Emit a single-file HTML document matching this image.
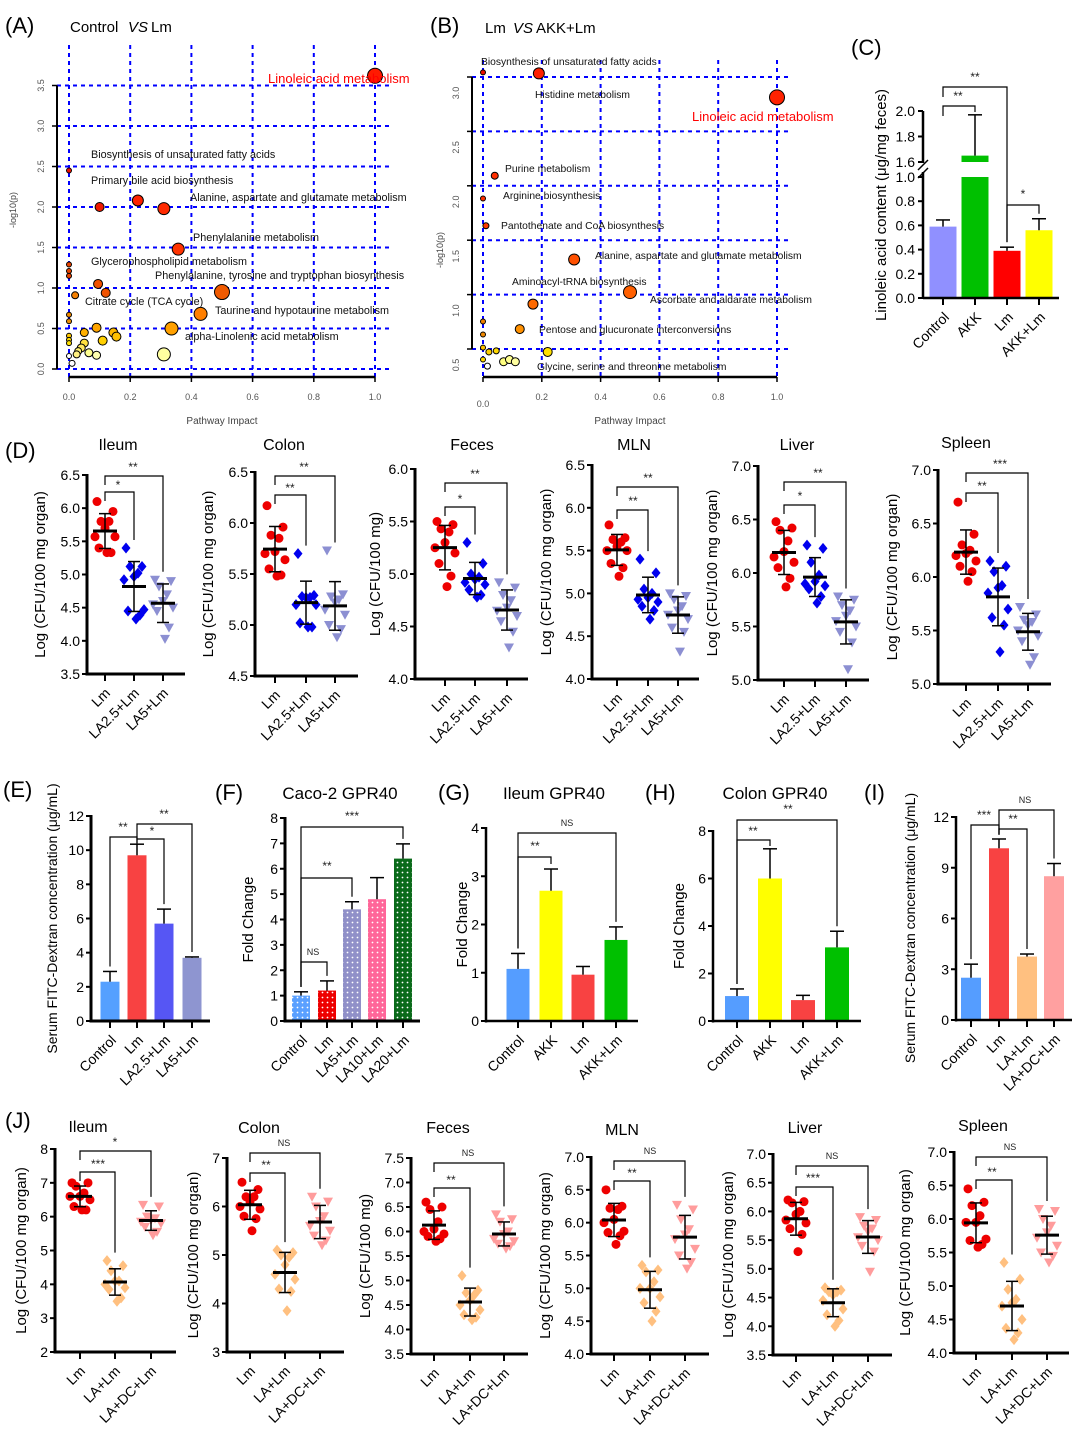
<!DOCTYPE html>
<html><head><meta charset="utf-8"><title>Figure</title>
<style>
html,body{margin:0;padding:0;background:#fff;}
svg{display:block;font-family:"Liberation Sans",Arial,sans-serif;}
</style></head>
<body>
<svg id="fig" width="1079" height="1445" viewBox="0 0 1079 1445" xmlns="http://www.w3.org/2000/svg">
<defs>
<pattern id="dotsW" width="5" height="5" patternUnits="userSpaceOnUse"><circle cx="2.5" cy="2.5" r="0.9" fill="#fff"/></pattern>
</defs>
</svg>
<script>
// ---------- DATA ----------
const A_IMPACT = [1.0,0.0,0.1,0.225,0.31,0.357,0.0,0.0,0.0,0.095,0.12,0.02,0.5,0.0,0.0,0.43,0.335,0.09,0.05,0.145,0.155,0.11,0.0,0.0,0.0,0.05,0.04,0.03,0.025,0.065,0.09,0.31,0.0,0.01];
const A_LOGP   = [3.62,2.45,2.0,2.08,1.98,1.48,1.29,1.21,1.15,1.05,0.94,0.91,0.95,0.67,0.59,0.68,0.5,0.51,0.45,0.45,0.4,0.35,0.41,0.36,0.32,0.32,0.26,0.22,0.18,0.2,0.17,0.18,0.16,0.07];
const A_RADIUS = [7.5,2.5,4.5,5.5,6,6,2.5,2.5,2.5,4.5,4.5,3.5,7.5,2.5,2.5,6.5,6.5,4.5,4,4.5,4.5,4.5,2.5,2.5,2.5,4,4,3.5,3.5,4,4,6.5,2.5,3];
const A_COLOR  = ['#ff1a00','#ee1100','#ee1a00','#ff2200','#ff2a00','#ff3300','#e84400','#e84400','#e84400','#ef5000','#f05200','#f58000','#f05a00','#f08a00','#f09000','#ff7f00','#ffa000','#ffa500','#ffb000','#ffb800','#ffc000','#ffd000','#ffc800','#ffd800','#ffe000','#ffe040','#ffe860','#fff070','#fff080','#ffff90','#ffffb0','#ffffa0','#ffffff','#ffffff'];
const A_LABELS = ['Biosynthesis of unsaturated fatty acids','Primary bile acid biosynthesis','Alanine, aspartate and glutamate metabolism','Phenylalanine metabolism','Glycerophospholipid metabolism','Phenylalanine, tyrosine and tryptophan biosynthesis','Citrate cycle (TCA cycle)','Taurine and hypotaurine metabolism','alpha-Linolenic acid metabolism'];
const A_XTICKS = ['0.0','0.2','0.4','0.6','0.8','1.0'];
const A_YTICKS = ['0.0','0.5','1.0','1.5','2.0','2.5','3.0','3.5'];
const B_IMPACT = [0.0,0.19,1.0,0.04,0.0,0.01,0.31,0.5,0.17,0.0,0.0,0.125,0.0,0.02,0.045,0.22,0.0,0.07,0.09,0.11,0.015];
const B_LOGP   = [3.19,3.18,2.96,2.24,2.03,1.78,1.47,1.17,1.06,0.9,0.78,0.83,0.66,0.62,0.63,0.62,0.55,0.53,0.55,0.53,0.49];
const B_RADIUS = [2.5,5.5,7.5,3.5,2.5,3,5.5,6.5,5,2.5,2.5,4.5,2.5,3,3,4.5,2.5,4,4,4,3];
const B_COLOR  = ['#ee1100','#ff2000','#ff2200','#ff3000','#ff3000','#ff3a00','#ff5000','#ff6000','#ff6a00','#f08000','#f08800','#ff9000','#ffc000','#ffd000','#ffd800','#ffe000','#ffd800','#ffff80','#ffff90','#ffffa0','#ffffff'];
const B_LABELS = ['Biosynthesis of unsaturated fatty acids','Histidine metabolism','Purine metabolism','Arginine biosynthesis','Pantothenate and CoA biosynthesis','Alanine, aspartate and glutamate metabolism','Aminoacyl-tRNA biosynthesis','Ascorbate and aldarate metabolism','Pentose and glucuronate interconversions','Glycine, serine and threonine metabolism'];
const B_XTICKS = ['0.0','0.2','0.4','0.6','0.8','1.0'];
const B_YTICKS = ['0.5','1.0','1.5','2.0','2.5','3.0'];
const C_GROUPS = ['Control','AKK','Lm','AKK+Lm'];
const C_MEAN = [0.59,1.65,0.39,0.56];
const C_ERR  = [0.055,0.32,0.03,0.095];
const C_LOW_TICKS = ['0.0','0.2','0.4','0.6','0.8','1.0'];
const C_HIGH_TICKS = ['1.6','1.8','2.0'];
const D_GROUPS = ['Lm','LA2.5+Lm','LA5+Lm'];
const D_ILEUM  = [[6.1,5.95,5.8,5.8,5.7,5.57,5.57,5.4,5.33,5.33],[5.4,5.12,5.12,5.02,4.97,4.92,4.47,4.45,4.39,4.33],[4.92,4.9,4.82,4.7,4.6,4.55,4.5,4.45,4.2,4.03]];
const D_COLON  = [[6.17,5.96,5.88,5.85,5.72,5.7,5.64,5.55,5.49,5.48],[5.7,5.29,5.28,5.27,5.27,5.2,5.2,5.02,4.98,4.98],[5.73,5.3,5.28,5.25,5.22,5.15,5.1,5.0,4.96,4.88]];
const D_FECES  = [[5.5,5.47,5.43,5.4,5.3,5.25,5.2,5.1,4.98,4.88],[5.3,5.1,5.0,4.97,4.95,4.92,4.9,4.85,4.8,4.78],[4.92,4.87,4.8,4.75,4.68,4.65,4.6,4.55,4.45,4.3]];
const D_MLN    = [[5.8,5.65,5.63,5.6,5.55,5.5,5.5,5.35,5.3,5.2],[5.4,5.24,5.05,5.0,4.95,4.93,4.9,4.85,4.8,4.7],[5.0,4.97,4.93,4.85,4.8,4.75,4.7,4.6,4.55,4.32]];
const D_LIVER  = [[6.48,6.42,6.4,6.3,6.2,6.15,6.1,6.05,5.95,5.87],[6.26,6.23,6.1,5.98,5.92,5.9,5.88,5.85,5.78,5.72],[5.78,5.75,5.7,5.65,5.6,5.55,5.5,5.45,5.35,5.1]];
const D_SPLEEN = [[6.7,6.4,6.3,6.25,6.22,6.2,6.15,6.1,6.05,5.96],[6.15,6.1,6.05,5.92,5.9,5.85,5.7,5.62,5.55,5.3],[5.72,5.65,5.6,5.58,5.55,5.5,5.45,5.4,5.25,5.18]];
const D_TICKS_ILEUM = ['3.5','4.0','4.5','5.0','5.5','6.0','6.5'];
const D_TICKS_COLON = ['4.5','5.0','5.5','6.0','6.5'];
const D_TICKS_FECES = ['4.0','4.5','5.0','5.5','6.0'];
const D_TICKS_MLN   = ['4.0','4.5','5.0','5.5','6.0','6.5'];
const D_TICKS_LIVER = ['5.0','5.5','6.0','6.5','7.0'];
const D_TICKS_SPLEEN= ['5.0','5.5','6.0','6.5','7.0'];
const E_GROUPS = ['Control','Lm','LA2.5+Lm','LA5+Lm'];
const E_MEAN = [2.3,9.7,5.7,3.7];
const E_ERR  = [0.6,0.65,0.85,0.05];
const E_TICKS = ['0','2','4','6','8','10','12'];
const F_GROUPS = ['Control','Lm','LA5+Lm','LA10+Lm','LA20+Lm'];
const F_MEAN = [1.0,1.2,4.4,4.8,6.4];
const F_ERR  = [0.15,0.38,0.3,0.85,0.58];
const F_TICKS = ['0','1','2','3','4','5','6','7','8'];
const G_GROUPS = ['Control','AKK','Lm','AKK+Lm'];
const G_MEAN = [1.08,2.7,0.96,1.68];
const G_ERR  = [0.32,0.45,0.17,0.27];
const G_TICKS = ['0','1','2','3','4'];
const H_GROUPS = ['Control','AKK','Lm','AKK+Lm'];
const H_MEAN = [1.05,6.0,0.88,3.1];
const H_ERR  = [0.3,1.25,0.2,0.68];
const H_TICKS = ['0','2','4','6','8'];
const I_GROUPS = ['Control','Lm','LA+Lm','LA+DC+Lm'];
const I_MEAN = [2.5,10.15,3.75,8.5];
const I_ERR  = [0.8,0.55,0.15,0.75];
const I_TICKS = ['0','3','6','9','12'];
const J_GROUPS = ['Lm','LA+Lm','LA+DC+Lm'];
const J_ILEUM  = [[7.0,7.0,6.9,6.7,6.6,6.6,6.5,6.3,6.2,6.2],[4.7,4.55,4.4,4.1,4.1,4.0,3.9,3.85,3.6,3.5],[6.35,6.3,6.0,5.95,5.9,5.85,5.8,5.7,5.55,5.45]];
const J_COLON  = [[6.5,6.35,6.2,6.2,6.1,6.0,5.95,5.8,5.75,5.5],[5.1,5.05,5.0,4.95,4.8,4.6,4.5,4.3,4.25,3.85],[6.2,6.1,6.0,5.8,5.7,5.6,5.5,5.4,5.3,5.2]];
const J_FECES  = [[6.6,6.5,6.45,6.2,6.05,6.0,5.95,5.9,5.85,5.8],[5.1,4.8,4.75,4.7,4.6,4.5,4.4,4.3,4.25,4.2],[6.35,6.25,6.2,6.0,5.95,5.85,5.8,5.75,5.7,5.65]];
const J_MLN    = [[6.5,6.25,6.22,6.2,6.05,6.0,5.87,5.85,5.8,5.67],[5.35,5.28,5.25,5.1,5.0,5.0,4.87,4.78,4.65,4.5],[6.27,6.2,6.05,5.9,5.82,5.75,5.6,5.5,5.4,5.3]];
const J_LIVER  = [[6.2,6.17,6.15,6.0,5.95,5.85,5.8,5.7,5.6,5.3],[4.67,4.63,4.6,4.6,4.55,4.45,4.3,4.2,4.1,4.0],[5.9,5.85,5.75,5.7,5.65,5.55,5.5,5.4,5.3,4.95]];
const J_SPLEEN = [[6.45,6.25,6.2,6.05,5.95,5.95,5.7,5.68,5.62,5.58],[5.35,5.1,4.95,4.8,4.75,4.7,4.5,4.37,4.3,4.2],[6.15,6.12,6.0,5.9,5.8,5.72,5.6,5.5,5.45,5.35]];
const J_TICKS_ILEUM = ['2','3','4','5','6','7','8'];
const J_TICKS_COLON = ['3','4','5','6','7'];
const J_TICKS_FECES = ['3.5','4.0','4.5','5.0','5.5','6.0','6.5','7.0','7.5'];
const J_TICKS_MLN   = ['4.0','4.5','5.0','5.5','6.0','6.5','7.0'];
const J_TICKS_LIVER = ['3.5','4.0','4.5','5.0','5.5','6.0','6.5','7.0'];
const J_TICKS_SPLEEN= ['4.0','4.5','5.0','5.5','6.0','6.5','7.0'];

// ---------- HELPERS ----------
const svg = document.getElementById('fig');
const NS = 'http://www.w3.org/2000/svg';
function mk(tag, attrs, name, parent){
  const el = document.createElementNS(NS, tag);
  for (const k in attrs) el.setAttribute(k, attrs[k]);
  
  
  (parent||svg).appendChild(el);
  return el;
}
function grp(name){ return mk('g', {}, name); }
function line(x1,y1,x2,y2,w,col,name,p,dash){
  const a = {x1:x1,y1:y1,x2:x2,y2:y2,stroke:col||'#000','stroke-width':w||1};
  if (dash) a['stroke-dasharray']=dash;
  return mk('line', a, name, p);
}
function txt(x,y,s,size,name,p,opt){
  opt = opt||{};
  const a = {x:x,y:y,'font-size':size,fill:opt.fill||'#000'};
  if (opt.anchor) a['text-anchor']=opt.anchor;
  if (opt.rot!==undefined) a.transform='rotate('+opt.rot+' '+x+' '+y+')';
  if (opt.style) a['font-style']=opt.style;
  const t = mk('text', a, name, p);
  t.textContent = s;
  return t;
}
function mean(a){ return a.reduce((s,v)=>s+v,0)/a.length; }
function sd(a){ const m=mean(a); return Math.sqrt(a.reduce((s,v)=>s+(v-m)*(v-m),0)/(a.length-1)); }
function scaleY(v0,v1,p0,p1){ return v => p0 + (v-v0)*(p1-p0)/(v1-v0); }

[['(A)',5,33],['(B)',430,33],['(C)',851,55],['(D)',5,458],['(E)',3,797],['(F)',215,800],['(G)',438,800],['(H)',645,800],['(I)',864,800],['(J)',5,1128]].forEach(l=>{
  txt(l[1],l[2],l[0],22,'panel-label-'+l[0].replace(/[()]/g,'').toLowerCase());
});

// ---------- BUBBLE PANELS ----------
function bubblePanel(cfg){
  const g = grp(cfg.name);
  const X = v => cfg.x0 + v*(cfg.x1-cfg.x0);
  const Y = cfg.Y;
  cfg.xticks.forEach((t,i)=>{ const v=parseFloat(t);
    line(X(v),cfg.gridTop,X(v),cfg.axisY,2,'#0000ff','grid-vertical',g,'4 4'); });
  cfg.yticks.forEach(t=>{ const v=parseFloat(t);
    line(cfg.axisX,cfg.gridY(v),cfg.gridRight,cfg.gridY(v),2,'#0000ff','grid-horizontal',g,'4 4'); });
  line(cfg.axisX,cfg.gridY(parseFloat(cfg.yticks[cfg.yticks.length-1])),cfg.axisX,cfg.gridY(parseFloat(cfg.yticks[0])),2,'#000','y-axis',g);
  line(X(0),cfg.axisY,X(1),cfg.axisY,2.5,'#000','x-axis',g);
  cfg.yticks.forEach(t=>{ const v=parseFloat(t);
    line(cfg.axisX-5,cfg.gridY(v),cfg.axisX,cfg.gridY(v),1.5,'#000','y-tick',g);
    txt(cfg.axisX-13,cfg.labelY(v),t,9,'y-tick-label',g,{anchor:'middle',rot:-90,fill:'#555'}); });
  cfg.xticks.forEach(t=>{ const v=parseFloat(t);
    line(X(v),cfg.axisY,X(v),cfg.axisY+5,1.5,'#000','x-tick',g);
    txt(X(v),(v===0&&cfg.zeroLow)?407:400,t,9,'x-tick-label',g,{anchor:'middle',fill:'#555'}); });
  txt((X(0)+X(1))/2,424,'Pathway Impact',10,'x-axis-title',g,{anchor:'middle',fill:'#444'});
  txt(cfg.ytX,cfg.ytY,'-log10(p)',9,'y-axis-title',g,{anchor:'middle',rot:-90,fill:'#444'});
  cfg.ix.forEach((v,i)=>{
    mk('circle',{cx:X(v),cy:Y(cfg.lp[i]),r:cfg.rad[i],fill:cfg.col[i],stroke:'#000','stroke-width':1},'pathway-bubble',g);
  });
  cfg.labels.forEach((s,i)=>{ txt(cfg.lpos[i][0],cfg.lpos[i][1],s,cfg.lfs,'pathway-label',g,{fill:'#111'}); });
  txt(cfg.hl[0],cfg.hl[1],'Linoleic acid metabolism',13,'highlight-label',g,{fill:'#ff0000'});
}
const AY = scaleY(0,3.5,369,85.5);
bubblePanel({name:'panel-a-pathway-bubble',x0:69,x1:375,axisX:57,axisY:377,gridTop:45,gridRight:390,
  Y:AY,gridY:AY,labelY:AY,yticks:A_YTICKS,xticks:A_XTICKS,ix:A_IMPACT,lp:A_LOGP,rad:A_RADIUS,col:A_COLOR,lfs:10.8,
  labels:A_LABELS,lpos:[[91,158],[91,184],[190,201],[193,241],[91,265],[155,279],[85,305],[215,314],[185,340]],
  hl:[268,83],ytX:16,ytY:210});
const BY = scaleY(0.5,3.0,365,93);
const BG = v => BY(v)-16;
bubblePanel({name:'panel-b-pathway-bubble',x0:483,x1:777,axisX:472,axisY:377,gridTop:60,gridRight:790,
  Y:BY,gridY:BG,labelY:BY,yticks:B_YTICKS,xticks:B_XTICKS,zeroLow:true,ix:B_IMPACT,lp:B_LOGP,rad:B_RADIUS,col:B_COLOR,lfs:10.3,
  labels:B_LABELS,lpos:[[481,65],[535,98],[505,172],[503,199],[501,229],[595,259],[512,285],[650,303],[539,333],[537,370]],
  hl:[692,121],ytX:443,ytY:250});
txt(70,32,'Control ',15,'panel-a-title');
txt(128,32,'VS',15,'panel-a-title-vs',null,{style:'italic'});
txt(151,32,' Lm',15,'panel-a-title-end');
txt(485,33,'Lm ',15,'panel-b-title');
txt(513,33,'VS',15,'panel-b-title-vs',null,{style:'italic'});
txt(536,33,' AKK+Lm',15,'panel-b-title-end');

function bracket(g,xa,xb,y,ya,yb,lab,lx,ly,size){
  mk('polyline',{points:xa+','+ya+' '+xa+','+y+' '+xb+','+y+' '+xb+','+yb,fill:'none',stroke:'#000','stroke-width':1.2},'significance-bracket',g);
  txt(lx,ly,lab,size||11,'significance-label',g,{anchor:'middle',fill:'#222'});
}

// ---------- SCATTER PANELS ----------
const JIT = [-8,8,-4,4,0,-10,10,-6,6,2];
function marker(g,shape,x,y,col){
  if (shape==='c') mk('circle',{cx:x,cy:y,r:4.5,fill:col},'data-point',g);
  else if (shape==='d') mk('polygon',{points:(x)+','+(y-5.5)+' '+(x+4.5)+','+y+' '+x+','+(y+5.5)+' '+(x-4.5)+','+y,fill:col},'data-point',g);
  else mk('polygon',{points:(x-5)+','+(y-4)+' '+(x+5)+','+(y-4)+' '+x+','+(y+5),fill:col},'data-point',g);
}
function scatterPanel(c){
  const g = grp(c.name);
  const t0 = parseFloat(c.ticks[0]), t1 = parseFloat(c.ticks[c.ticks.length-1]);
  const Y = scaleY(t0,t1,c.p0,c.p1);
  line(c.ax,c.p1-1,c.ax,c.p0+1.5,3,'#000','y-axis',g);
  line(c.ax,c.p0,c.xend,c.p0,3,'#000','x-axis',g);
  c.ticks.forEach(t=>{ const v=parseFloat(t);
    line(c.ax-5,Y(v),c.ax,Y(v),2,'#000','y-tick',g);
    txt(c.ax-7,Y(v)+5,t,14,'y-tick-label',g,{anchor:'end'}); });
  txt(c.tx,c.ty,c.title,16,'panel-title',g,{anchor:'middle'});
  txt(c.ytx,(c.p0+c.p1)/2,c.ytitle,15,'y-axis-title',g,{anchor:'middle',rot:-90});
  const tops = [];
  c.data.forEach((arr,gi)=>{
    const gx = c.gx[gi];
    line(gx,c.p0,gx,c.p0+7,2,'#000','x-tick',g);
    txt(gx+6,c.p0+20,c.groups[gi],14,'x-tick-label',g,{anchor:'end',rot:-45});
    arr.forEach((v,i)=>marker(g,c.shapes[gi],gx+JIT[i],Y(v),c.colors[gi]));
    const m = mean(arr), s = sd(arr);
    line(gx,Y(m-s),gx,Y(m+s),1.5,'#000','error-bar',g);
    line(gx-6,Y(m+s),gx+6,Y(m+s),1.5,'#000','error-cap',g);
    line(gx-6,Y(m-s),gx+6,Y(m-s),1.5,'#000','error-cap',g);
    line(gx-12,Y(m),gx+12,Y(m),3,'#000','mean-line',g);
    tops.push(Math.min(Y(Math.max(...arr)),Y(m+s)));
  });
  c.br.forEach(b=>{
    const yb = Math.max(b[1]+8, tops[b[0]]-8);
    bracket(g,c.gx[0],c.gx[b[0]],b[1],b[1]+9,yb,b[2],b[3],b[4],b[2]==='NS'?9:12);
  });
}
const DC = ['#ee0000','#0000ee','#8c8fd2'], DS = ['c','d','t'];
const JC = ['#ee0000','#ffc080','#ff9c9c'];
const DYT = 'Log (CFU/100 mg organ)';
scatterPanel({name:'panel-d-ileum',data:D_ILEUM,ticks:D_TICKS_ILEUM,ax:87,xend:185,p0:674,p1:475,gx:[105,134,163],groups:D_GROUPS,colors:DC,shapes:DS,title:'Ileum',tx:118,ty:450,ytitle:DYT,ytx:45,br:[[1,492,'*',118,489],[2,476,'**',133,471]]});
scatterPanel({name:'panel-d-colon',data:D_COLON,ticks:D_TICKS_COLON,ax:255,xend:358,p0:676,p1:472,gx:[275,306,335],groups:D_GROUPS,colors:DC,shapes:DS,title:'Colon',tx:284,ty:450,ytitle:DYT,ytx:213,br:[[1,495,'**',290,492],[2,476,'**',304,471]]});
scatterPanel({name:'panel-d-feces',data:D_FECES,ticks:D_TICKS_FECES,ax:415,xend:528,p0:679,p1:469,gx:[445,475,507],groups:D_GROUPS,colors:DC,shapes:DS,title:'Feces',tx:472,ty:450,ytitle:'Log (CFU/100 mg)',ytx:380,br:[[1,507,'*',460,503],[2,483,'**',475,478]]});
scatterPanel({name:'panel-d-mln',data:D_MLN,ticks:D_TICKS_MLN,ax:592,xend:699,p0:679,p1:465,gx:[617,648,678],groups:D_GROUPS,colors:DC,shapes:DS,title:'MLN',tx:634,ty:450,ytitle:DYT,ytx:551,br:[[1,510,'**',633,505],[2,487,'**',648,482]]});
scatterPanel({name:'panel-d-liver',data:D_LIVER,ticks:D_TICKS_LIVER,ax:758,xend:869,p0:680,p1:466,gx:[784,815,846],groups:D_GROUPS,colors:DC,shapes:DS,title:'Liver',tx:797,ty:450,ytitle:DYT,ytx:717,br:[[1,505,'*',800,500],[2,482,'**',818,477]]});
scatterPanel({name:'panel-d-spleen',data:D_SPLEEN,ticks:D_TICKS_SPLEEN,ax:938,xend:1051,p0:684,p1:470,gx:[966,998,1028],groups:D_GROUPS,colors:DC,shapes:DS,title:'Spleen',tx:966,ty:448,ytitle:DYT,ytx:897,br:[[1,493,'**',982,490],[2,473,'***',1000,468]]});

scatterPanel({name:'panel-j-ileum',data:J_ILEUM,ticks:J_TICKS_ILEUM,ax:55,xend:176,p0:1352,p1:1149,gx:[80,115,151],groups:J_GROUPS,colors:JC,shapes:DS,title:'Ileum',tx:88,ty:1132,ytitle:DYT,ytx:26,br:[[1,1172,'***',98,1168],[2,1151,'*',115,1146]]});
scatterPanel({name:'panel-j-colon',data:J_COLON,ticks:J_TICKS_COLON,ax:227,xend:344,p0:1352,p1:1158,gx:[250,285,320],groups:J_GROUPS,colors:JC,shapes:DS,title:'Colon',tx:259,ty:1133,ytitle:DYT,ytx:198,br:[[1,1173,'**',266,1169],[2,1153,'NS',284,1146]]});
scatterPanel({name:'panel-j-feces',data:J_FECES,ticks:J_TICKS_FECES,ax:411,xend:528,p0:1354,p1:1158,gx:[434,470,504],groups:J_GROUPS,colors:JC,shapes:DS,title:'Feces',tx:448,ty:1133,ytitle:'Log (CFU/100 mg)',ytx:370,br:[[1,1188,'**',451,1184],[2,1163,'NS',468,1156]]});
scatterPanel({name:'panel-j-mln',data:J_MLN,ticks:J_TICKS_MLN,ax:591,xend:709,p0:1354,p1:1157,gx:[614,650,685],groups:J_GROUPS,colors:JC,shapes:DS,title:'MLN',tx:622,ty:1135,ytitle:DYT,ytx:550,br:[[1,1181,'**',632,1177],[2,1161,'NS',650,1154]]});
scatterPanel({name:'panel-j-liver',data:J_LIVER,ticks:J_TICKS_LIVER,ax:773,xend:892,p0:1355,p1:1154,gx:[796,833,868],groups:J_GROUPS,colors:JC,shapes:DS,title:'Liver',tx:805,ty:1133,ytitle:DYT,ytx:733,br:[[1,1187,'***',813,1182],[2,1166,'NS',832,1159]]});
scatterPanel({name:'panel-j-spleen',data:J_SPLEEN,ticks:J_TICKS_SPLEEN,ax:954,xend:1069,p0:1353,p1:1152,gx:[976,1012,1047],groups:J_GROUPS,colors:JC,shapes:DS,title:'Spleen',tx:983,ty:1131,ytitle:DYT,ytx:910,br:[[1,1180,'**',992,1176],[2,1157,'NS',1010,1150]]});

// ---------- BAR PANELS ----------
function barPanel(c){
  const g = grp(c.name);
  const t0 = parseFloat(c.ticks[0]), t1 = parseFloat(c.ticks[c.ticks.length-1]);
  const Y = scaleY(t0,t1,c.p0,c.p1);
  const tops = [];
  c.means.forEach((m,i)=>{
    const x = c.gx[i];
    mk('rect',{x:x-c.bw/2,y:Y(m),width:c.bw,height:c.p0-Y(m),fill:c.colors[i]},'bar-'+c.groups[i].toLowerCase().replace(/[^a-z0-9]+/g,'-'),g);
    if (c.dotted) mk('rect',{x:x-c.bw/2,y:Y(m),width:c.bw,height:c.p0-Y(m),fill:'url(#dotsW)'},'bar-pattern',g);
    const e = m + c.errs[i];
    line(x,Y(m),x,Y(e),1.5,'#000','error-bar',g);
    line(x-7,Y(e),x+7,Y(e),1.5,'#000','error-cap',g);
    tops.push(Y(e));
    line(x,c.p0,x,c.p0+7,2,'#000','x-tick',g);
    txt(x+7,c.p0+20,c.groups[i],14,'x-tick-label',g,{anchor:'end',rot:-45});
  });
  line(c.ax,c.p1-1,c.ax,c.p0+1.5,c.aw||3,'#000','y-axis',g);
  line(c.ax,c.p0,c.xend,c.p0,c.aw||3,'#000','x-axis',g);
  c.ticks.forEach(t=>{ const v=parseFloat(t);
    line(c.ax-5,Y(v),c.ax,Y(v),2,'#000','y-tick',g);
    txt(c.ax-7,Y(v)+5,t,14,'y-tick-label',g,{anchor:'end'}); });
  if (c.title) txt(c.tx,c.ty,c.title,17,'panel-title',g,{anchor:'middle'});
  txt(c.ytx,c.yty||(c.p0+c.p1)/2,c.ytitle,c.yts||15,'y-axis-title',g,{anchor:'middle',rot:-90});
  c.br.forEach(b=>{
    const ya = Math.max(b[2]+6, tops[b[0]]-5), yb = Math.max(b[2]+6, tops[b[1]]-5);
    bracket(g,c.gx[b[0]],c.gx[b[1]],b[2],ya,yb,b[3],b[4],b[5],b[3]==='NS'?9:12);
  });
}
barPanel({name:'panel-e-fitc-dextran',means:E_MEAN,errs:E_ERR,groups:E_GROUPS,ticks:E_TICKS,colors:['#55a0ff','#f84242','#5656f4','#8e95d0'],
  ax:91,xend:210,p0:1021,p1:816,gx:[110,137,164,192],bw:19,ytitle:'Serum FITC-Dextran concentration (μg/mL)',ytx:57,yts:14,
  br:[[0,1,837,'**',123,831],[1,2,839,'*',152,835],[1,3,824,'**',164,818]]});
barPanel({name:'panel-f-caco2-gpr40',means:F_MEAN,errs:F_ERR,groups:F_GROUPS,ticks:F_TICKS,colors:['#5aa0ff','#ee0000','#9090c8','#ff6699','#0a6a1a'],dotted:true,
  ax:285,xend:420,p0:1021,p1:818,gx:[301,327,352,377,403],bw:18,title:'Caco-2 GPR40',tx:340,ty:799,ytitle:'Fold  Change',ytx:253,
  br:[[0,1,962,'NS',313,955],[0,2,878,'**',327,870],[0,4,827,'***',352,820]]});
barPanel({name:'panel-g-ileum-gpr40',means:G_MEAN,errs:G_ERR,groups:G_GROUPS,ticks:G_TICKS,colors:['#559dff','#ffff00','#f84242','#00c000'],aw:2.5,
  ax:486,xend:638,p0:1021,p1:828,gx:[518,551,583,616],bw:23,title:'Ileum GPR40',tx:554,ty:799,ytitle:'Fold  Change',ytx:467,
  br:[[0,1,857,'**',535,850],[0,3,833,'NS',567,826]]});
barPanel({name:'panel-h-colon-gpr40',means:H_MEAN,errs:H_ERR,groups:H_GROUPS,ticks:H_TICKS,colors:['#559dff','#ffff00','#f84242','#00c000'],aw:2.5,
  ax:713,xend:861,p0:1021,p1:831,gx:[737,770,803,837],bw:24,title:'Colon GPR40',tx:775,ty:799,ytitle:'Fold  Change',ytx:684,
  br:[[0,1,840,'**',753,835],[0,3,820,'**',788,813]]});
barPanel({name:'panel-i-fitc-dextran',means:I_MEAN,errs:I_ERR,groups:I_GROUPS,ticks:I_TICKS,colors:['#559dff','#f84242','#ffc080','#ffa0a0'],aw:2.5,
  ax:956,xend:1072,p0:1020,p1:817,gx:[971,999,1027,1054],bw:20,ytitle:'Serum FITC-Dextran concentration (μg/mL)',ytx:915,yts:14,yty:928,
  br:[[0,1,825,'***',984,819],[1,2,829,'**',1013,823],[1,3,810,'NS',1025,803]]});

// ---------- PANEL C ----------
(function(){
  const g = grp('panel-c-linoleic-acid');
  const YL = scaleY(0,1.0,298,177);
  const YH = scaleY(1.6,2.0,162,111);
  const Yv = v => v<=1.0 ? YL(v) : (v>=1.6 ? YH(v) : YL(1.0));
  const gx = [943,975,1007,1039], bw = 27, cols = ['#9090ff','#00c000','#ff0000','#ffff00'];
  const tops = [];
  C_MEAN.forEach((m,i)=>{
    const x = gx[i];
    if (m > 1.0){
      mk('rect',{x:x-bw/2,y:YL(1.0),width:bw,height:298-YL(1.0),fill:cols[i]},'bar-'+C_GROUPS[i].toLowerCase()+'-lower',g);
      mk('rect',{x:x-bw/2,y:YH(m),width:bw,height:YH(1.6)-YH(m),fill:cols[i]},'bar-'+C_GROUPS[i].toLowerCase()+'-upper',g);
    } else {
      mk('rect',{x:x-bw/2,y:YL(m),width:bw,height:298-YL(m),fill:cols[i]},'bar-'+C_GROUPS[i].toLowerCase().replace(/[^a-z0-9]+/g,'-'),g);
    }
    const e = m + C_ERR[i];
    line(x,Yv(m),x,Yv(e),1.5,'#000','error-bar',g);
    line(x-7,Yv(e),x+7,Yv(e),1.5,'#000','error-cap',g);
    tops.push(Yv(e));
    line(x,298,x,305,2,'#000','x-tick',g);
    txt(x+7,318,C_GROUPS[i],14,'x-tick-label',g,{anchor:'end',rot:-45});
  });
  line(923,111,923,163,2.5,'#000','y-axis-upper',g);
  line(923,172,923,299,2.5,'#000','y-axis-lower',g);
  line(918,170,928,160,1.5,'#000','axis-break',g);
  line(918,178,928,168,1.5,'#000','axis-break',g);
  line(923,298,1059,298,2.5,'#000','x-axis',g);
  C_LOW_TICKS.forEach(t=>{const v=parseFloat(t);
    line(918,YL(v),923,YL(v),2,'#000','y-tick',g);
    txt(915,YL(v)+5,t,14,'y-tick-label',g,{anchor:'end'}); });
  C_HIGH_TICKS.forEach(t=>{const v=parseFloat(t);
    line(918,YH(v),923,YH(v),2,'#000','y-tick',g);
    txt(915,YH(v)+5,t,14,'y-tick-label',g,{anchor:'end'}); });
  txt(886,205,'Linoleic acid content (μg/mg feces)',15,'y-axis-title',g,{anchor:'middle',rot:-90});
  bracket(g,gx[0],gx[1],106,116,Math.max(112,tops[1]-4),'**',958,100,12);
  bracket(g,gx[0],gx[2],87,97,Math.max(93,tops[2]-5),'**',975,81,12);
  bracket(g,gx[2],gx[3],205,Math.max(211,tops[2]-5),Math.max(211,tops[3]-5),'*',1023,198,12);
})();
</script>
</body></html>
